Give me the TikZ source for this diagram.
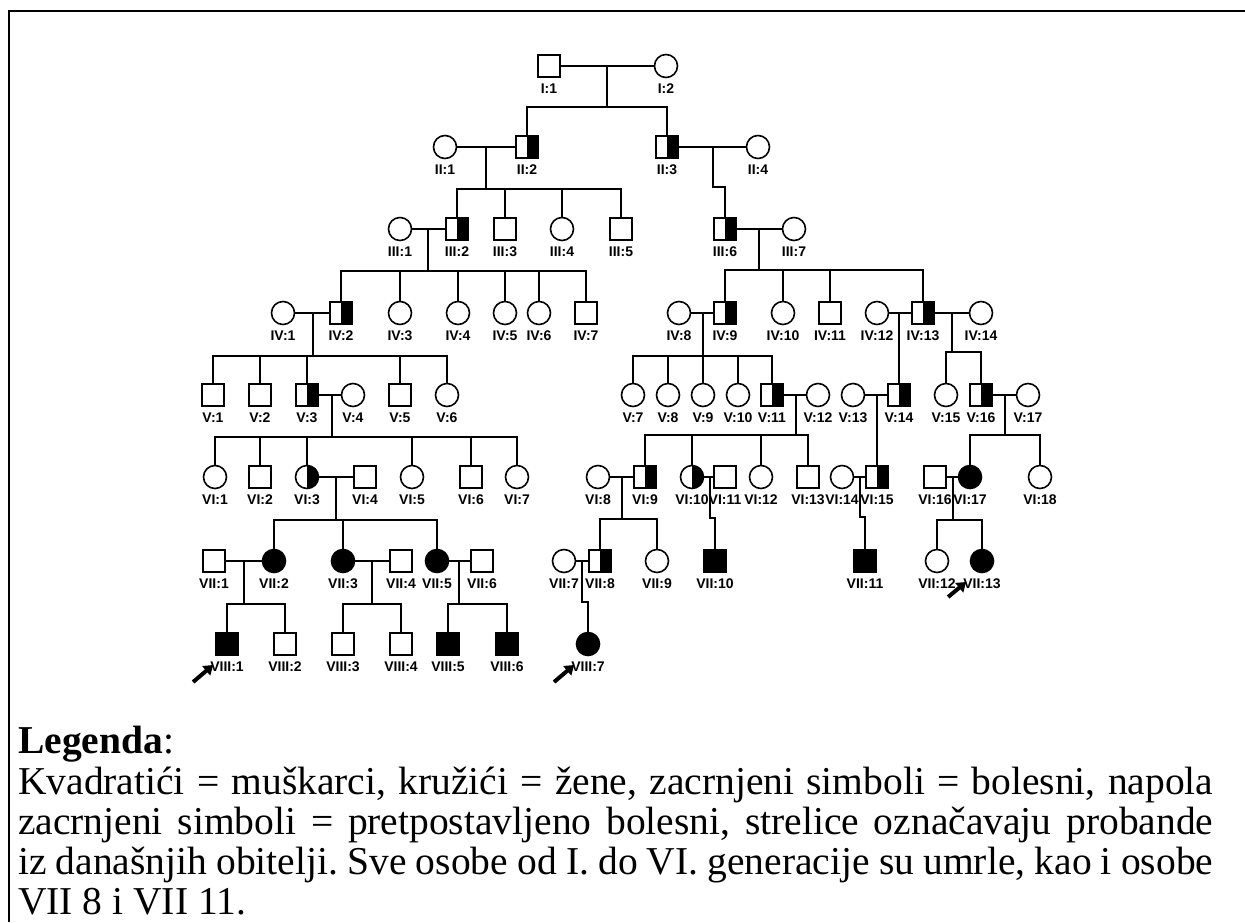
\documentclass[tikz,border=0pt]{standalone}
\usepackage{fontspec}
\setmainfont{Liberation Serif}
\newfontfamily\lblfont{Liberation Sans}
\usetikzlibrary{arrows.meta}
\newcommand\pp[4]{\node[#1] (#2) at (#3) {}; \node[lbl] (#2l) at ([yshift=-23pt]#2.center) {#4};}
\newcommand\kid[2]{\draw[con] (#1.north) -- (#1.north |- #2);}
\begin{document}
\frenchspacing
\begin{tikzpicture}[x=1pt,y=-1pt,
  sym/.style={draw=black, line width=1.6pt, inner sep=0pt, fill=white},
  male/.style={sym, rectangle, minimum size=22pt},
  fem/.style={sym, circle, minimum size=23pt},
  half/.style={path picture={\fill[black] (path picture bounding box.north) rectangle (path picture bounding box.south east);}},
  aff/.style={fill=black},
  lbl/.style={font=\lblfont\bfseries\fontsize{14}{15}\selectfont, inner sep=0pt},
  con/.style={line width=1.6pt},
  prob/.style={line width=4pt, -{Triangle[length=9pt,width=12pt]}},
  leg/.style={font=\fontsize{39.5}{41}\selectfont, inner sep=0pt, anchor=base west}
]
\useasboundingbox (0,0) rectangle (1245,922);
\fill[white] (0,0) rectangle (1245,922);
\draw[line width=2pt] (1245,11) -- (9,11) -- (9,922);

% generation I
\pp{male}{I1}{549,66}{I:1}
\pp{fem}{I2}{666,66}{I:2}
% generation II
\pp{fem}{II1}{445,147}{II:1}
\pp{male,half}{II2}{527,147}{II:2}
\pp{male,half}{II3}{667,147}{II:3}
\pp{fem}{II4}{758,147}{II:4}
% generation III
\pp{fem}{III1}{400,229}{III:1}
\pp{male,half}{III2}{457,229}{III:2}
\pp{male}{III3}{505,229}{III:3}
\pp{fem}{III4}{562,229}{III:4}
\pp{male}{III5}{621,229}{III:5}
\pp{male,half}{III6}{725,229}{III:6}
\pp{fem}{III7}{794,229}{III:7}
% generation IV
\pp{fem}{IV1}{283,313}{IV:1}
\pp{male,half}{IV2}{341,313}{IV:2}
\pp{fem}{IV3}{400,313}{IV:3}
\pp{fem}{IV4}{458,313}{IV:4}
\pp{fem}{IV5}{505,313}{IV:5}
\pp{fem}{IV6}{539,313}{IV:6}
\pp{male}{IV7}{586,313}{IV:7}
\pp{fem}{IV8}{679,313}{IV:8}
\pp{male,half}{IV9}{725,313}{IV:9}
\pp{fem}{IV10}{783,313}{IV:10}
\pp{male}{IV11}{830,313}{IV:11}
\pp{fem}{IV12}{877,313}{IV:12}
\pp{male,half}{IV13}{923,313}{IV:13}
\pp{fem}{IV14}{981,313}{IV:14}
% generation V
\pp{male}{V1}{213,395}{V:1}
\pp{male}{V2}{260,395}{V:2}
\pp{male,half}{V3}{307,395}{V:3}
\pp{fem}{V4}{353,395}{V:4}
\pp{male}{V5}{400,395}{V:5}
\pp{fem}{V6}{447,395}{V:6}
\pp{fem}{V7}{633,395}{V:7}
\pp{fem}{V8}{668,395}{V:8}
\pp{fem}{V9}{703,395}{V:9}
\pp{fem}{V10}{738,395}{V:10}
\pp{male,half}{V11}{772,395}{V:11}
\pp{fem}{V12}{818,395}{V:12}
\pp{fem}{V13}{853,395}{V:13}
\pp{male,half}{V14}{899,395}{V:14}
\pp{fem}{V15}{946,395}{V:15}
\pp{male,half}{V16}{981,395}{V:16}
\pp{fem}{V17}{1028,395}{V:17}
% generation VI
\pp{fem}{VI1}{215,477}{VI:1}
\pp{male}{VI2}{260,477}{VI:2}
\pp{fem,half}{VI3}{307,477}{VI:3}
\pp{male}{VI4}{365,477}{VI:4}
\pp{fem}{VI5}{412,477}{VI:5}
\pp{male}{VI6}{471,477}{VI:6}
\pp{fem}{VI7}{517,477}{VI:7}
\pp{fem}{VI8}{598,477}{VI:8}
\pp{male,half}{VI9}{645,477}{VI:9}
\pp{fem,half}{VI10}{692,477}{VI:10}
\pp{male}{VI11}{725,477}{VI:11}
\pp{fem}{VI12}{761,477}{VI:12}
\pp{male}{VI13}{808,477}{VI:13}
\pp{fem}{VI14}{842,477}{VI:14}
\pp{male,half}{VI15}{877,477}{VI:15}
\pp{male}{VI16}{935,477}{VI:16}
\pp{fem,aff}{VI17}{970,477}{VI:17}
\pp{fem}{VI18}{1040,477}{VI:18}
% generation VII
\pp{male}{VII1}{214,561}{VII:1}
\pp{fem,aff}{VII2}{274,561}{VII:2}
\pp{fem,aff}{VII3}{343,561}{VII:3}
\pp{male}{VII4}{401,561}{VII:4}
\pp{fem,aff}{VII5}{437,561}{VII:5}
\pp{male}{VII6}{482,561}{VII:6}
\pp{fem}{VII7}{564,561}{VII:7}
\pp{male,half}{VII8}{600,561}{VII:8}
\pp{fem}{VII9}{657,561}{VII:9}
\pp{male,aff}{VII10}{715,561}{VII:10}
\pp{male,aff}{VII11}{865,561}{VII:11}
\pp{fem}{VII12}{937,561}{VII:12}
\pp{fem,aff}{VII13}{982,561}{VII:13}
% generation VIII
\pp{male,aff}{VIII1}{227,644}{VIII:1}
\pp{male}{VIII2}{285,644}{VIII:2}
\pp{male}{VIII3}{343,644}{VIII:3}
\pp{male}{VIII4}{401,644}{VIII:4}
\pp{male,aff}{VIII5}{448,644}{VIII:5}
\pp{male,aff}{VIII6}{507,644}{VIII:6}
\pp{fem,aff}{VIII7}{588,644}{VIII:7}

% marriages
\foreach \a/\b in {I1/I2,II1/II2,II3/II4,III1/III2,III6/III7,IV1/IV2,IV8/IV9,IV12/IV13,IV13/IV14,
  V3/V4,V11/V12,V13/V14,V16/V17,VI3/VI4,VI8/VI9,VI10/VI11,VI14/VI15,VI16/VI17,
  VII1/VII2,VII3/VII4,VII5/VII6,VII7/VII8}
  \draw[con] (\a) -- (\b);

% descent
\coordinate (mI) at (607,66);
\draw[con] (mI) -- ++(0,41) coordinate (sI);
\draw[con] (II2.north) |- (sI) -| (II3.north);

\coordinate (mIIa) at (486,147);
\draw[con] (mIIa) -- ++(0,42) coordinate (sIIa);
\draw[con] (III2.north) |- (sIIa) -| (III5.north);
\kid{III3}{sIIa} \kid{III4}{sIIa}

\coordinate (mIIb) at (713,147);
\draw[con] (mIIb) -- ++(0,40) -| (III6.north);

\coordinate (mIIIa) at (428,229);
\draw[con] (mIIIa) -- ++(0,42) coordinate (sIIIa);
\draw[con] (IV2.north) |- (sIIIa) -| (IV7.north);
\kid{IV3}{sIIIa} \kid{IV4}{sIIIa} \kid{IV5}{sIIIa} \kid{IV6}{sIIIa}

\coordinate (mIIIb) at (759,229);
\draw[con] (mIIIb) -- ++(0,41) coordinate (sIIIb);
\draw[con] (IV9.north) |- (sIIIb) -| (IV13.north);
\kid{IV10}{sIIIb} \kid{IV11}{sIIIb}

\coordinate (mIVa) at (313,313);
\draw[con] (mIVa) -- ++(0,43) coordinate (sIVa);
\draw[con] (V1.north) |- (sIVa) -| (V6.north);
\kid{V2}{sIVa} \kid{V3}{sIVa} \kid{V5}{sIVa}

\coordinate (mIVb) at (703,313);
\draw[con] (mIVb) -- ++(0,43) coordinate (sIVb);
\draw[con] (V7.north) |- (sIVb) -| (V11.north);
\kid{V8}{sIVb} \kid{V9}{sIVb} \kid{V10}{sIVb}

\coordinate (mIVc) at (899,313);
\draw[con] (mIVc) -- (V14.north);

\coordinate (mIVd) at (952,313);
\draw[con] (mIVd) -- ++(0,39) coordinate (sIVd);
\draw[con] (V15.north) |- (sIVd) -| (V16.north);

\coordinate (mVa) at (332,395);
\draw[con] (mVa) -- ++(0,42) coordinate (sVa);
\draw[con] (VI1.north) |- (sVa) -| (VI7.north);
\kid{VI2}{sVa} \kid{VI3}{sVa} \kid{VI5}{sVa} \kid{VI6}{sVa}

\coordinate (mVb) at (796,395);
\draw[con] (mVb) -- ++(0,40) coordinate (sVb);
\draw[con] (VI9.north) |- (sVb) -| (VI13.north);
\kid{VI10}{sVb} \kid{VI12}{sVb}

\coordinate (mVc) at (877,395);
\draw[con] (mVc) -- (VI15.north);

\coordinate (mVd) at (1005,395);
\draw[con] (mVd) -- ++(0,40) coordinate (sVd);
\draw[con] (VI17.north) |- (sVd) -| (VI18.north);

\coordinate (mVIa) at (336,477);
\draw[con] (mVIa) -- ++(0,43) coordinate (sVIa);
\draw[con] (VII2.north) |- (sVIa) -| (VII5.north);
\kid{VII3}{sVIa}

\coordinate (mVIb) at (622,477);
\draw[con] (mVIb) -- ++(0,42) coordinate (sVIb);
\draw[con] (VII8.north) |- (sVIb) -| (VII9.north);

\coordinate (mVIc) at (710,477);
\draw[con] (mVIc) -- ++(0,41) -| (VII10.north);

\coordinate (mVId) at (860,477);
\draw[con] (mVId) -- ++(0,40) -| (VII11.north);

\coordinate (mVIe) at (953,477);
\draw[con] (mVIe) -- ++(0,43) coordinate (sVIe);
\draw[con] (VII12.north) |- (sVIe) -| (VII13.north);

\coordinate (mVIIa) at (244,561);
\draw[con] (mVIIa) -- ++(0,43) coordinate (sVIIa);
\draw[con] (VIII1.north) |- (sVIIa) -| (VIII2.north);

\coordinate (mVIIb) at (372,561);
\draw[con] (mVIIb) -- ++(0,43) coordinate (sVIIb);
\draw[con] (VIII3.north) |- (sVIIb) -| (VIII4.north);

\coordinate (mVIIc) at (459,561);
\draw[con] (mVIIc) -- ++(0,43) coordinate (sVIIc);
\draw[con] (VIII5.north) |- (sVIIc) -| (VIII6.north);

\coordinate (mVIId) at (582,561);
\draw[con] (mVIId) -- ++(0,41) -| (VIII7.north);

% probands
\coordinate (aVIII1) at ([xshift=-17pt,yshift=-15pt]VIII1l.west);
\draw[prob] (aVIII1) -- ([xshift=3pt,yshift=2pt]VIII1l.west);
\coordinate (aVIII7) at ([xshift=-17pt,yshift=-15pt]VIII7l.west);
\draw[prob] (aVIII7) -- ([xshift=3pt,yshift=2pt]VIII7l.west);
\coordinate (aVII13) at ([xshift=-15pt,yshift=-13pt]VII13l.west);
\draw[prob] (aVII13) -- ([xshift=3pt,yshift=2pt]VII13l.west);

% legend
\node[leg] (lg0) at (18,753) {\textbf{Legenda}:};
\node[leg] (lg1) at (18,794) {\makebox[1195pt][s]{Kvadratići = muškarci, kružići = žene, zacrnjeni simboli = bolesni, napola}};
\node[leg] (lg2) at (18,834) {\makebox[1195pt][s]{zacrnjeni simboli = pretpostavljeno bolesni, strelice označavaju probande}};
\node[leg] (lg3) at (18,874) {\makebox[1195pt][s]{iz današnjih obitelji. Sve osobe od I. do VI. generacije su umrle, kao i osobe}};
\node[leg] (lg4) at (18,914) {VII 8 i VII 11.};
\end{tikzpicture}
\end{document}
